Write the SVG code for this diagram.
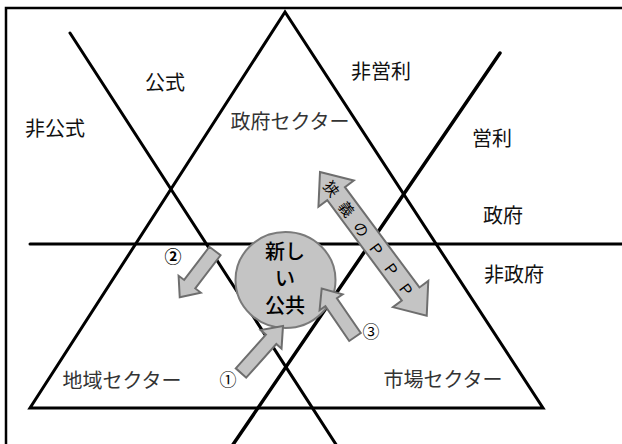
<svg xmlns="http://www.w3.org/2000/svg" width="622" height="444" viewBox="0 0 622 444">
<style>
.ln{stroke:#000;stroke-width:3;fill:none;stroke-linecap:round;stroke-linejoin:miter}
.lbl{font-family:"Noto Sans CJK JP","Noto Sans CJK SC",sans-serif;font-size:20px;fill:#111;text-anchor:middle;dominant-baseline:central}
.sec{fill:#333}
.num{font-family:"Noto Sans CJK JP",sans-serif;font-size:17px;fill:#000;text-anchor:middle;dominant-baseline:central}
.arr{fill:#c4c4c4;stroke:#6e6e6e;stroke-width:2;stroke-linejoin:miter}
.ctr{font-family:"Noto Sans CJK JP",sans-serif;font-size:20px;fill:#000;text-anchor:middle;dominant-baseline:central;font-weight:500}
</style>
<defs>
<path id="sarrow" d="M0,-7 L43,-7 L43,-14 L60,0 L43,14 L43,7 L0,7 Z"/>
</defs>
<rect width="622" height="444" fill="#fff"/>
<g id="frame">
<path d="M6,444 L6,8 L622,8" fill="none" stroke="#000" stroke-width="2.5"/>
</g>
<g id="structure">
<path class="ln" d="M285,12 L30,408 L543,408 Z"/>
<path class="ln" d="M30,244 L622,244"/>
<path class="ln" d="M70,33 L337,446"/>
<path class="ln" d="M500,53 L232,446" style="stroke-width:3.5"/>
</g>
<g id="node-new-public">
<ellipse cx="285.5" cy="280" rx="50" ry="48" fill="#c4c4c4" stroke="#7a7a7a" stroke-width="2"/>
<text class="ctr" x="285" y="250">新し</text>
<text class="ctr" x="285" y="277">い</text>
<text class="ctr" x="285" y="304">公共</text>
</g>
<g id="connectors">
<use href="#sarrow" class="arr" transform="translate(215,251) rotate(127.3) scale(0.97,1)"/>
<use href="#sarrow" class="arr" transform="translate(241,373) rotate(-48.2) scale(1.05,1)"/>
<use href="#sarrow" class="arr" transform="translate(355,337) rotate(-124.5) scale(0.98,1)"/>
<g transform="translate(320,172) rotate(53.4)">
<path class="arr" d="M0,0 L27,-22 L27,-11 L152,-11 L152,-22 L179,0 L152,22 L152,11 L27,11 L27,22 Z"/>
<text x="13" y="0" style="font-family:'Noto Sans CJK JP',sans-serif;font-size:15px;fill:#000;dominant-baseline:central;letter-spacing:10px">狭義のＰＰＰ</text>
</g>
</g>
<g id="label-koushiki"><text class="lbl" x="165" y="81">公式</text></g>
<g id="label-hikoushiki"><text class="lbl" x="55" y="127">非公式</text></g>
<g id="label-seifu-sector"><text class="lbl sec" x="290" y="120">政府セクター</text></g>
<g id="label-hieiri"><text class="lbl" x="381" y="70">非営利</text></g>
<g id="label-eiri"><text class="lbl" x="492" y="137">営利</text></g>
<g id="label-seifu"><text class="lbl" x="503" y="214">政府</text></g>
<g id="label-hiseifu"><text class="lbl" x="514" y="273">非政府</text></g>
<g id="label-chiiki"><text class="lbl sec" x="122" y="379">地域セクター</text></g>
<g id="label-shijou"><text class="lbl sec" x="443" y="378">市場セクター</text></g>
<g id="num-1"><text class="num" x="228" y="378">①</text></g>
<g id="num-2"><text class="num" x="173" y="255" font-weight="bold">②</text></g>
<g id="num-3"><text class="num" x="371" y="330">③</text></g>
</svg>
